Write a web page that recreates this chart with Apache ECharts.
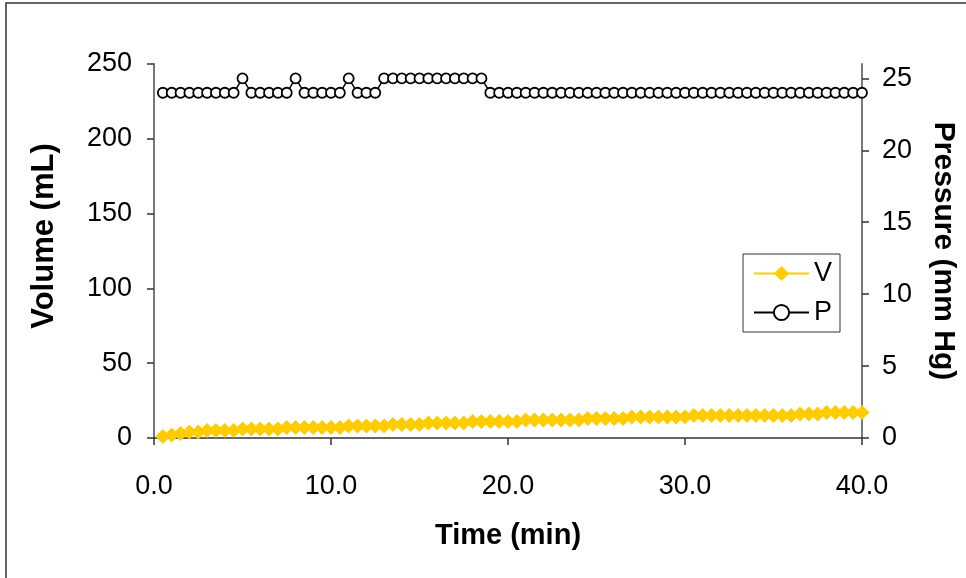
<!DOCTYPE html>
<html>
<head>
<meta charset="utf-8">
<script src="https://cdn.jsdelivr.net/npm/echarts@6/dist/echarts.min.js"></script>
<style>
html, body { margin: 0; padding: 0; background: #fff; }
#chart { width: 966px; height: 578px; }
</style>
</head>
<body>
<div id="chart"></div>
<script>
// time (min), one reading every half minute
var timeMin = [0.5, 1.0, 1.5, 2.0, 2.5, 3.0, 3.5, 4.0, 4.5, 5.0,
    5.5, 6.0, 6.5, 7.0, 7.5, 8.0, 8.5, 9.0, 9.5, 10.0,
    10.5, 11.0, 11.5, 12.0, 12.5, 13.0, 13.5, 14.0, 14.5, 15.0,
    15.5, 16.0, 16.5, 17.0, 17.5, 18.0, 18.5, 19.0, 19.5, 20.0,
    20.5, 21.0, 21.5, 22.0, 22.5, 23.0, 23.5, 24.0, 24.5, 25.0,
    25.5, 26.0, 26.5, 27.0, 27.5, 28.0, 28.5, 29.0, 29.5, 30.0,
    30.5, 31.0, 31.5, 32.0, 32.5, 33.0, 33.5, 34.0, 34.5, 35.0,
    35.5, 36.0, 36.5, 37.0, 37.5, 38.0, 38.5, 39.0, 39.5, 40.0];
// volume (mL)
var volume = [1, 2, 3, 4, 4, 5, 5, 5, 5, 6,
    6, 6, 6, 6, 7, 7, 7, 7, 7, 7,
    7, 8, 8, 8, 8, 8, 9, 9, 9, 9,
    10, 10, 10, 10, 10, 11, 11, 11, 11, 11,
    11, 12, 12, 12, 12, 12, 12, 12, 13, 13,
    13, 13, 13, 14, 14, 14, 14, 14, 14, 14,
    15, 15, 15, 15, 15, 15, 15, 15, 15, 15,
    15, 15, 16, 16, 16, 17, 17, 17, 17, 17];
// pressure (mm Hg)
var pressure = [24, 24, 24, 24, 24, 24, 24, 24, 24, 25,
    24, 24, 24, 24, 24, 25, 24, 24, 24, 24,
    24, 25, 24, 24, 24, 25, 25, 25, 25, 25,
    25, 25, 25, 25, 25, 25, 25, 24, 24, 24,
    24, 24, 24, 24, 24, 24, 24, 24, 24, 24,
    24, 24, 24, 24, 24, 24, 24, 24, 24, 24,
    24, 24, 24, 24, 24, 24, 24, 24, 24, 24,
    24, 24, 24, 24, 24, 24, 24, 24, 24, 24];
var pressureTicks = [0, 5, 10, 15, 20, 25];

var font = "'Liberation Sans', Arial, sans-serif";

function pairs(xs, ys) {
    var out = [];
    for (var i = 0; i < xs.length; i++) out.push([xs[i], ys[i]]);
    return out;
}

var chart = echarts.init(document.getElementById('chart'));
var option = {
    backgroundColor: '#fff',
    animation: false,
    textStyle: { fontFamily: font, color: '#000' },
    graphic: [{
        type: 'rect',
        shape: { x: 6, y: 3, width: 1000, height: 620 },
        style: { fill: 'none', stroke: '#333', lineWidth: 1.5 },
        silent: true
    }],
    grid: { left: 154, right: 103, top: 64, bottom: 140 },
    legend: {
        orient: 'vertical',
        left: 743,
        top: 254,
        padding: [6, 8, 6, 10],
        itemGap: 12,
        itemWidth: 55,
        itemHeight: 19,
        borderColor: '#333',
        borderWidth: 1,
        backgroundColor: '#fff',
        textStyle: { fontFamily: font, fontSize: 27, color: '#000' },
        data: ['V', 'P']
    },
    xAxis: {
        type: 'value',
        min: 0, max: 40, interval: 10,
        name: 'Time (min)',
        nameLocation: 'middle',
        nameGap: 83,
        nameTextStyle: { fontFamily: font, fontSize: 29, fontWeight: 'bold', color: '#000' },
        axisLine: { onZero: false, lineStyle: { color: '#333', width: 1.5 } },
        axisTick: { length: 7, lineStyle: { color: '#333', width: 1.5 } },
        axisLabel: { margin: 35, fontSize: 27, color: '#000', fontFamily: font,
            formatter: function (v) { return v.toFixed(1); } },
        splitLine: { show: false }
    },
    yAxis: [{
        type: 'value',
        min: 0, max: 250, interval: 50,
        name: 'Volume (mL)',
        nameLocation: 'middle',
        nameGap: 94,
        nameTextStyle: { fontFamily: font, fontSize: 31, fontWeight: 'bold', color: '#000',
            padding: [0, 0, 0, 30] },
        axisLine: { show: true, lineStyle: { color: '#777', width: 2 } },
        axisTick: { show: true, length: 7, lineStyle: { color: '#333', width: 1.5 } },
        axisLabel: { margin: 22, fontSize: 27, color: '#000', fontFamily: font },
        splitLine: { show: false }
    }, {
        type: 'value',
        min: 0, max: 26,
        position: 'right',
        name: 'Pressure (mm Hg)',
        nameLocation: 'middle',
        nameGap: 66,
        nameRotate: -90,
        nameTextStyle: { fontFamily: font, fontSize: 30, fontWeight: 'bold', color: '#000' },
        axisLine: { show: true, lineStyle: { color: '#777', width: 2 } },
        axisTick: { show: true, length: 7, customValues: pressureTicks, lineStyle: { color: '#333', width: 1.5 } },
        axisLabel: { margin: 20, fontSize: 27, color: '#000', fontFamily: font, customValues: pressureTicks },
        splitLine: { show: false }
    }],
    series: [{
        name: 'V',
        type: 'line',
        yAxisIndex: 0,
        data: pairs(timeMin, volume),
        symbol: 'diamond',
        symbolSize: 15,
        lineStyle: { color: '#FFCC00', width: 1.5 },
        itemStyle: { color: '#FFCC00', borderWidth: 0 }
    }, {
        name: 'P',
        type: 'line',
        yAxisIndex: 1,
        data: pairs(timeMin, pressure),
        symbol: 'circle',
        symbolSize: 10,
        showAllSymbol: true,
        lineStyle: { color: '#000', width: 1.5 },
        itemStyle: { color: '#fff', borderColor: '#000', borderWidth: 1.8 }
    }]
};
chart.setOption(option);
window.onresize = chart.resize;
</script>
</body>
</html>
